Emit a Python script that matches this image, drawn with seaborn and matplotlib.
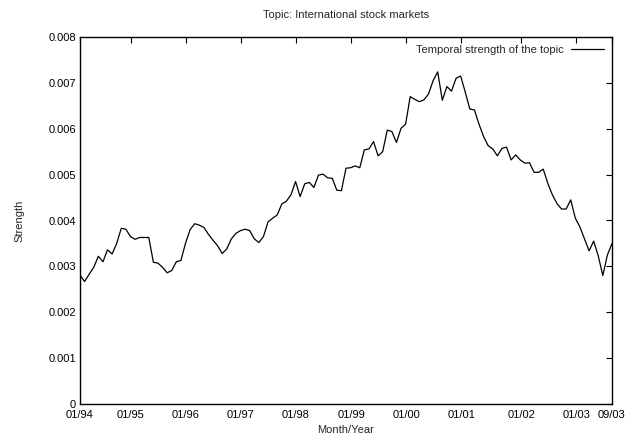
import matplotlib
matplotlib.use("Agg")
import matplotlib.pyplot as plt
import seaborn as sns
import numpy as np
import pandas as pd

# Monthly strength values (x1e-3), 01/94 .. 09/03
strength_e3 = [
    2.81, 2.67, 2.83, 2.98, 3.22, 3.10, 3.36, 3.27, 3.50, 3.83,
    3.81, 3.65, 3.59, 3.63, 3.63, 3.63, 3.09, 3.07, 2.98, 2.86,
    2.91, 3.10, 3.13, 3.50, 3.80, 3.93, 3.90, 3.85, 3.70, 3.57,
    3.45, 3.28, 3.38, 3.60, 3.72, 3.78, 3.81, 3.78, 3.60, 3.52,
    3.65, 3.97, 4.05, 4.12, 4.36, 4.42, 4.56, 4.85, 4.52, 4.80,
    4.83, 4.72, 4.99, 5.01, 4.93, 4.92, 4.66, 4.65, 5.14, 5.15,
    5.19, 5.15, 5.54, 5.56, 5.72, 5.41, 5.50, 5.97, 5.94, 5.70,
    6.01, 6.10, 6.70, 6.64, 6.59, 6.63, 6.76, 7.05, 7.24, 6.62,
    6.92, 6.82, 7.10, 7.15, 6.80, 6.43, 6.41, 6.10, 5.83, 5.63,
    5.56, 5.41, 5.57, 5.60, 5.32, 5.43, 5.32, 5.25, 5.26, 5.05,
    5.05, 5.12, 4.81, 4.56, 4.37, 4.25, 4.25, 4.45, 4.05, 3.86,
    3.60, 3.34, 3.55, 3.23, 2.80, 3.25, 3.50,
]
tick_labels = ["01/94", "01/95", "01/96", "01/97", "01/98", "01/99",
               "01/00", "01/01", "01/02", "01/03", "09/03"]
tick_index = [0, 11.1, 23.1, 35.1, 47.1, 59.1, 71.1, 83.1, 96.2, 108.2, 116]
y_ticks = [0, 0.001, 0.002, 0.003, 0.004, 0.005, 0.006, 0.007, 0.008]
y_tick_labels = ["0", "0.001", "0.002", "0.003", "0.004", "0.005", "0.006", "0.007", "0.008"]

df = pd.DataFrame({"idx": np.arange(len(strength_e3)),
                   "strength": np.array(strength_e3) / 1000.0})

sns.set_style("white")
plt.rcParams["font.family"] = ["Liberation Sans", "DejaVu Sans"]

fig = plt.figure(figsize=(6.26, 4.40), dpi=100)
ax = fig.add_axes([80 / 626, 1 - 404 / 440, (612 - 80) / 626, (404 - 37) / 440])

sns.lineplot(data=df, x="idx", y="strength", color="black", linewidth=0.9,
             label="Temporal strength of the topic", ax=ax)

ax.set_xlim(0, 116)
ax.set_ylim(0, 0.008)
ax.set_xticks(tick_index)
ax.set_xticklabels(tick_labels)
ax.set_yticks(y_ticks)
ax.set_yticklabels(y_tick_labels)
ax.tick_params(direction="in", length=4, width=0.8, top=True, right=True,
               labelsize=8, colors="black", pad=3)
ax.tick_params(axis="x", pad=4)
for s in ax.spines.values():
    s.set_color("black")
    s.set_linewidth(1.0)
    s.set_visible(True)

ax.set_xlabel("Month/Year", fontsize=8, labelpad=4)
ax.set_ylabel("Strength", fontsize=8, labelpad=17)
ax.set_title("Topic: International stock markets", fontsize=8, pad=14)

ax.legend(loc="upper right", frameon=False, markerfirst=False, fontsize=8,
          handlelength=3.0, borderaxespad=0.3, handletextpad=0.6)

fig.savefig("out.png", dpi=100)
